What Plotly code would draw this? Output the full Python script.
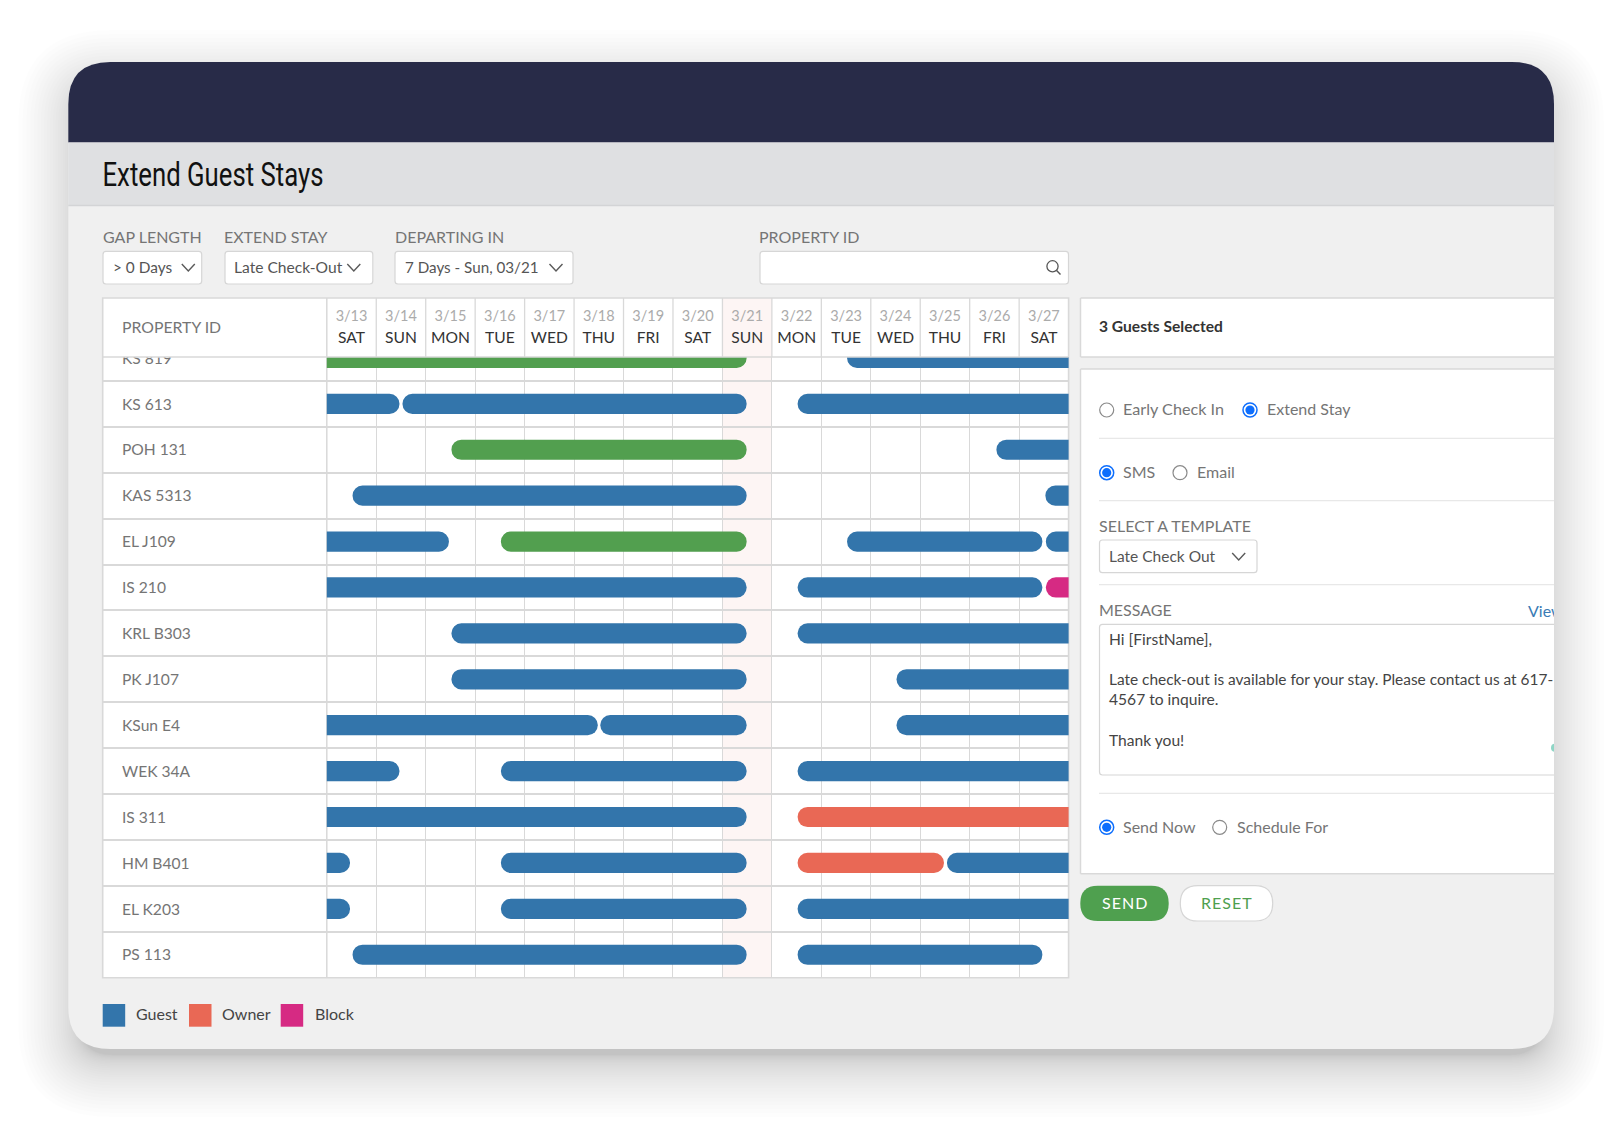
import plotly.graph_objects as go

W, H = 1622, 1124

# ---- data ----
rows = ["KS 819", "KS 613", "POH 131", "KAS 5313", "EL J109", "IS 210", "KRL B303", "PK J107",
        "KSun E4", "WEK 34A", "IS 311", "HM B401", "EL K203", "PS 113"]
dates = ["3/13", "3/14", "3/15", "3/16", "3/17", "3/18", "3/19", "3/20", "3/21", "3/22", "3/23", "3/24", "3/25", "3/26", "3/27"]
weekdays = ["SAT", "SUN", "MON", "TUE", "WED", "THU", "FRI", "SAT", "SUN", "MON", "TUE", "WED", "THU", "FRI", "SAT"]

guest_rows = ["KS 819", "KS 613", "KS 613", "KS 613", "POH 131", "KAS 5313", "KAS 5313", "EL J109", "EL J109", "EL J109",
              "IS 210", "IS 210", "KRL B303", "KRL B303", "PK J107", "PK J107", "KSun E4", "KSun E4", "KSun E4",
              "WEK 34A", "WEK 34A", "WEK 34A", "IS 311", "HM B401", "HM B401", "HM B401", "EL K203", "EL K203", "EL K203",
              "PS 113", "PS 113"]
guest_start = [10.52, -1, 1.53, 9.52, 13.54, 0.52, 14.53, -1, 10.52, 14.54,
               -1, 9.52, 2.52, 9.52, 2.52, 11.52, -1, 5.53, 11.52,
               -1, 3.52, 9.52, -1, -1, 3.52, 12.54, -1, 3.52, 9.52,
               0.52, 9.52]
guest_end = [16, 1.47, 8.49, 16, 16, 8.49, 16, 2.47, 14.47, 16,
             8.49, 14.47, 8.49, 16, 8.49, 16, 5.48, 8.49, 16,
             1.47, 8.49, 16, 8.49, 0.47, 8.49, 16, 0.47, 8.49, 16,
             8.49, 14.47]
green_rows = ["KS 819", "POH 131", "EL J109"]
green_start = [-1, 2.52, 3.52]
green_end = [8.49, 8.49, 8.49]
owner_rows = ["IS 311", "HM B401"]
owner_start = [9.52, 9.52]
owner_end = [16, 12.48]
block_rows = ["IS 210"]
block_start = [14.54]
block_end = [16]

legend_names = ["Guest", "Owner", "Block"]

BLUE, GREEN, OWNER, BLOCK = "#3375ab", "#529f4f", "#e96855", "#d62a83"
GRID = "#d9d9d9"
GREY = "#757575"
DARK = "#444444"
FONT = "Lato"


def X(p):
    return p / W


def Y(p):
    return 1 - p / H


shapes = []
annos = []


def rrect(x0, y0, x1, y1, r, fill, line=None, lw=1.2, opacity=1, top_only=False):
    r2 = 0 if top_only else r
    p = (f"M {X(x0 + r)} {Y(y0)} L {X(x1 - r)} {Y(y0)} Q {X(x1)} {Y(y0)} {X(x1)} {Y(y0 + r)} "
         f"L {X(x1)} {Y(y1 - r2)} Q {X(x1)} {Y(y1)} {X(x1 - r2)} {Y(y1)} "
         f"L {X(x0 + r2)} {Y(y1)} Q {X(x0)} {Y(y1)} {X(x0)} {Y(y1 - r2)} "
         f"L {X(x0)} {Y(y0 + r)} Q {X(x0)} {Y(y0)} {X(x0 + r)} {Y(y0)} Z")
    shapes.append(dict(type="path", xref="paper", yref="paper", path=p, fillcolor=fill, opacity=opacity,
                       line=dict(color=line or "rgba(0,0,0,0)", width=lw if line else 0), layer="below"))


def open_box(x0, y0, x1, y1, r, line, lw=1.2):
    p = (f"M {X(x1)} {Y(y0)} L {X(x0 + r)} {Y(y0)} Q {X(x0)} {Y(y0)} {X(x0)} {Y(y0 + r)} "
         f"L {X(x0)} {Y(y1 - r)} Q {X(x0)} {Y(y1)} {X(x0 + r)} {Y(y1)} L {X(x1)} {Y(y1)}")
    shapes.append(dict(type="path", xref="paper", yref="paper", path=p, line=dict(color=line, width=lw), layer="below"))


def rect(x0, y0, x1, y1, fill, line=None, lw=1.2, layer="below"):
    shapes.append(dict(type="rect", xref="paper", yref="paper", x0=X(x0), x1=X(x1), y0=Y(y0), y1=Y(y1),
                       fillcolor=fill, line=dict(color=line or "rgba(0,0,0,0)", width=lw if line else 0), layer=layer))


def hline(x0, x1, y, color=GRID, lw=1.5, layer="below"):
    shapes.append(dict(type="line", xref="paper", yref="paper", x0=X(x0), x1=X(x1), y0=Y(y), y1=Y(y),
                       line=dict(color=color, width=lw), layer=layer))


def vline(x, y0, y1, color=GRID, lw=1.4, layer="below"):
    shapes.append(dict(type="line", xref="paper", yref="paper", x0=X(x), x1=X(x), y0=Y(y0), y1=Y(y1),
                       line=dict(color=color, width=lw), layer=layer))


def text(x, y, s, size=16, color=GREY, anchor="left", family=FONT, weight=None):
    f = dict(family=family, size=size, color=color)
    if weight:
        f["weight"] = weight
    annos.append(dict(xref="paper", yref="paper", x=X(x), y=Y(y - 1.3), text=s, showarrow=False, xanchor=anchor,
                      yanchor="middle", borderpad=0, borderwidth=0, font=f))


def chevron(x, y):
    p = f"M {X(x - 6.5)} {Y(y - 3.5)} L {X(x)} {Y(y + 3.5)} L {X(x + 6.5)} {Y(y - 3.5)}"
    shapes.append(dict(type="path", xref="paper", yref="paper", path=p, line=dict(color="#5a5a5a", width=1.4), layer="above"))


def circle(cx, cy, r, fill, line=None, lw=1.3):
    shapes.append(dict(type="circle", xref="paper", yref="paper", x0=X(cx - r), x1=X(cx + r), y0=Y(cy - r), y1=Y(cy + r),
                       fillcolor=fill, line=dict(color=line or "rgba(0,0,0,0)", width=lw if line else 0), layer="above"))


def radio(cx, cy, on):
    if on:
        circle(cx, cy, 7, "#ffffff", "#0d6efd", 1.5)
        circle(cx, cy, 4.6, "#0d6efd")
    else:
        circle(cx, cy, 7, "#ffffff", "#8a8a8a", 1.2)


# ---- page chrome ----
CL, CT, CR, CB = 68.3, 62, 1554, 1049
N = 30
for i in range(N):
    s = 62 * (1 - i / N) ** 2 - 12
    rrect(CL - s, CT - s + 18, CR + s, CB + s + 18, 42 + max(s, -10), "#000000", opacity=0.006)
rrect(CL, CT, CR, CB, 42, "#f0f0f0")
rrect(CL, CT, CR, 142.5, 42, "#282b48", top_only=True)
rect(CL, 142.5, CR, 205.5, "#dfe0e2")
hline(CL, CR, 205.5, "#d3d4d6", 1.5)
TITLE = "Extend Guest Stays"
text(102.5 + 110.5, 175, TITLE, 34, "#111111", anchor="center", family="Roboto")

# ---- filters ----
for lx, s in [(102.7, "GAP LENGTH"), (224, "EXTEND STAY"), (394.6, "DEPARTING IN"), (759.2, "PROPERTY ID")]:
    text(lx, 238, s, 16, GREY)
for x0, x1 in [(103, 201.7), (225, 372.8), (395, 573), (760, 1068.5)]:
    rrect(x0, 251.4, x1, 284, 3, "#ffffff", "#d6d6d6")
text(112.8, 268.5, "&gt; 0 Days", 15.4, "#555555")
text(234.3, 268.5, "Late Check-Out", 15.6, "#555555")
text(405, 268.5, "7 Days - Sun, 03/21", 15.2, "#555555")
chevron(188.3, 267.5)
chevron(353.8, 267.5)
chevron(556, 267.5)
circle(1052.5, 266.3, 5.6, "rgba(0,0,0,0)", "#555555", 1.3)
shapes.append(dict(type="line", xref="paper", yref="paper", x0=X(1056.6), y0=Y(270.4), x1=X(1060.5), y1=Y(274.5),
                   line=dict(color="#555555", width=1.4), layer="above"))

# ---- table frame ----
TL, TT, TR, TB, HB = 102.7, 298, 1068.6, 977.7, 357
GL = 326.8
DAYW = (TR - GL) / len(dates)
rect(TL, TT, TR, TB, "#ffffff")
hi = dates.index("3/21")
rect(GL + hi * DAYW, TT, GL + (hi + 1) * DAYW, TB, "#fdf5f4")
for i in range(1, len(dates)):
    vline(GL + i * DAYW, TT, HB, GRID, 1.3)
vline(GL, TT, TB, GRID, 1.5)
hline(TL, TR, HB, GRID, 1.6, layer="above")
shapes.append(dict(type="rect", xref="paper", yref="paper", x0=X(TL), x1=X(TR), y0=Y(TT), y1=Y(TB),
                   line=dict(color=GRID, width=1.6), fillcolor="rgba(0,0,0,0)", layer="below"))
text(122, 327.5, "PROPERTY ID", 15.8, GREY)

# ---- right panels ----
PL = 1080.5
rect(PL, 298, CR, 357, "#ffffff")
rect(PL, 369, CR, 873.7, "#ffffff")
for y0, y1 in [(298, 357), (369, 873.7)]:
    hline(PL, CR, y0, GRID, 1.5)
    hline(PL, CR, y1, GRID, 1.5)
    vline(PL, y0, y1, GRID, 1.5)
text(1099, 327, "<b>3 Guests Selected</b>", 15.6, "#333333")
radio(1106.7, 410, False)
text(1123, 410, "Early Check In", 16.2, GREY)
radio(1250, 410, True)
text(1267.3, 410, "Extend Stay", 16, GREY)
hline(1099, CR, 438.3, "#e8e8e8", 1.3)
radio(1106.7, 472.7, True)
text(1123, 472.7, "SMS", 16, GREY)
radio(1180, 472.7, False)
text(1197, 472.7, "Email", 16, GREY)
hline(1099, CR, 500.7, "#e8e8e8", 1.3)
text(1099, 526.5, "SELECT A TEMPLATE", 16, GREY)
rrect(1099.5, 540, 1257, 572.7, 3, "#ffffff", "#d6d6d6")
text(1109.3, 557.5, "Late Check Out", 15.5, "#555555")
chevron(1238.7, 556.5)
hline(1099, CR, 584.7, "#e8e8e8", 1.3)
text(1099, 611, "MESSAGE", 16, GREY)
open_box(1099.5, 624.3, CR, 775, 3, "#d6d6d6")
text(1109.3, 640.5, "Hi [FirstName],", 15.6, DARK)
text(1109.3, 680.7, "Late check-out is available for your stay. Please contact us at 617-", 15.45, DARK)
text(1109.3, 700.5, "4567 to inquire.", 15.6, DARK)
text(1109.3, 741, "Thank you!", 15.6, DARK)
hline(1099, CR, 793.3, "#e8e8e8", 1.3)
radio(1106.7, 827.3, True)
text(1123, 827.3, "Send Now", 16, GREY)
radio(1219.7, 827.3, False)
text(1237, 827.3, "Schedule For", 16, GREY)
rrect(1080.3, 885.7, 1168.7, 921, 17.6, "#4fa04f")
text(1124, 903.5, "S\u200aE\u200aN\u200aD", 16, "#ffffff", anchor="center")
rrect(1180.3, 885.7, 1272.7, 921, 17.6, "#ffffff", "#d6d6d6")
text(1226, 903.5, "R\u200aE\u200aS\u200aE\u200aT", 16, "#4fa04f", anchor="center")

# ---- legend ----
for x0, c, tx, s in [(102.7, BLUE, 136.3, legend_names[0]), (189, OWNER, 222.3, legend_names[1]), (280.7, BLOCK, 315.3, legend_names[2])]:
    rect(x0, 1004, x0 + 22.5, 1026.7, c)
    text(tx, 1015, s, 16, DARK)

# ---- gantt ----
fig = go.Figure()


def add_series(rs, st, en, color):
    fig.add_trace(go.Bar(y=rs, x=[b - a for a, b in zip(st, en)], base=st, orientation="h", width=0.44,
                         xaxis="x", yaxis="y", marker=dict(color=color, line=dict(width=0), cornerradius=10),
                         showlegend=False, hoverinfo="skip"))


add_series(guest_rows, guest_start, guest_end, BLUE)
add_series(green_rows, green_start, green_end, GREEN)
add_series(owner_rows, owner_start, owner_end, OWNER)
add_series(block_rows, block_start, block_end, BLOCK)

# keeps the row separators running through the label column
fig.add_trace(go.Scatter(x=[0], y=[rows[0]], mode="markers", marker=dict(size=1, opacity=0), xaxis="x2", yaxis="y",
                         showlegend=False, hoverinfo="skip"))
# row labels sit on a twin of the row axis, nudged down to the label baseline of the reference
fig.add_trace(go.Scatter(x=[19.3] * len(rows), y=rows, text=rows, mode="text", textposition="middle right",
                         xaxis="x2", yaxis="y4", cliponaxis=True, showlegend=False, hoverinfo="skip",
                         textfont=dict(family=FONT, size=15.6, color=GREY)))
fig.add_trace(go.Scatter(x=[1528], y=[613], text=["View"], mode="text", textposition="middle right",
                         xaxis="x3", yaxis="y3", cliponaxis=True, showlegend=False, hoverinfo="skip",
                         textfont=dict(family=FONT, size=16, color="#3a7bb5")))
fig.add_trace(go.Scatter(x=[1555], y=[747.7], mode="markers", marker=dict(size=8, color="#8fd6c6"),
                         xaxis="x3", yaxis="y3", cliponaxis=True, showlegend=False, hoverinfo="skip"))

ticktext = [f"<span style='color:#ababab;font-size:14.5px'>{d}</span><br><span style='font-size:15.6px'>{w}</span>"
            for d, w in zip(dates, weekdays)]

fig.update_layout(
    width=W, height=H, margin=dict(l=0, r=0, t=0, b=0), autosize=False,
    paper_bgcolor="#ffffff", plot_bgcolor="rgba(0,0,0,0)",
    barmode="overlay", hovermode=False, showlegend=False,
    font=dict(family=FONT, size=16, color=DARK),
    shapes=shapes, annotations=annos,
    xaxis=dict(domain=[X(GL), X(TR)], range=[0, len(dates)], side="top", anchor="y",
               tickmode="array", tickvals=[i + 0.5 for i in range(len(dates))], ticktext=ticktext,
               tickfont=dict(family=FONT, size=17, color="#333333"), showgrid=False, zeroline=False, showline=False,
               ticks="outside", ticklen=6, tickcolor="rgba(0,0,0,0)", fixedrange=True,
               minor=dict(tickmode="array", tickvals=list(range(len(dates) + 1)), showgrid=True, gridcolor=GRID,
                          gridwidth=1.3, ticks="")),
    xaxis2=dict(domain=[X(TL), X(GL)], range=[0, GL - TL], anchor="y", visible=False, fixedrange=True),
    yaxis=dict(domain=[Y(TB), Y(HB)], type="category", categoryorder="array", categoryarray=rows, anchor="x",
               range=[len(rows) - 0.5, -0.02], tickson="boundaries", showgrid=True, gridcolor=GRID, gridwidth=1.6,
               showticklabels=False, zeroline=False, ticks="", fixedrange=True),
    yaxis4=dict(domain=[Y(TB), Y(HB)], type="category", categoryorder="array", categoryarray=rows, anchor="x2",
                range=[len(rows) - 0.5 - 0.04, -0.06], visible=False, fixedrange=True),
    xaxis3=dict(domain=[0, X(CR)], range=[0, CR], anchor="y3", visible=False, fixedrange=True),
    yaxis3=dict(domain=[0, 1], range=[H, 0], anchor="x3", visible=False, fixedrange=True),
)

post = """
document.body.style.margin='0';document.body.style.overflow='hidden';
document.querySelectorAll('.annotation-text').forEach(function(t){
  if(t.textContent==='%s'){t.setAttribute('textLength','221');t.setAttribute('lengthAdjust','spacingAndGlyphs');}
});
""" % TITLE
fig.write_html("out.html", config={"displayModeBar": False}, post_script=post)
